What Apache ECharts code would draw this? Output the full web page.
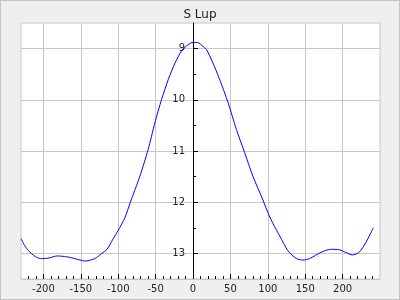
<!DOCTYPE html>
<html><head><meta charset="utf-8">
<script src="https://cdn.jsdelivr.net/npm/echarts@6/dist/echarts.min.js"></script>
<style>
html,body{margin:0;padding:0;background:#efefef;}
#c{width:400px;height:300px;box-sizing:border-box;border:1px solid #c4c4c4;background:#efefef;}
</style>
</head><body><div id="c"></div>
<script>
const chartTitle = 'S Lup';
const phase = [-230,-225,-220,-211,-204,-198,-190,-182,-172,-164,-151,-144,-137,-131,-122,-115,-107,-100,-91,-84,-71,-60,-51,-42,-33,-24,-15.5,-8,-3,3,8,12,18,26,35,47,58,69,80,93,102,111,116,127,138,147,156,171,184,196,204,213,222,231,241];
const mag = [12.71,12.85,12.95,13.06,13.10,13.10,13.08,13.05,13.06,13.08,13.13,13.15,13.13,13.10,13.00,12.92,12.72,12.55,12.30,12.01,11.49,10.97,10.45,9.99,9.60,9.28,9.05,8.94,8.89,8.88,8.89,8.94,9.02,9.26,9.58,10.06,10.58,11.03,11.49,11.94,12.27,12.53,12.66,12.95,13.10,13.13,13.10,12.98,12.92,12.93,12.98,13.03,12.98,12.79,12.50];
const xMajorTicks = [-200,-150,-100,-50,0,50,100,150,200];
const xMinorTicks = [-220,-210,-190,-180,-170,-160,-140,-130,-120,-110,-90,-80,-70,-60,-40,-30,-20,-10,10,20,30,40,60,70,80,90,110,120,130,140,160,170,180,190,210,220,230,240];
const yMajorTicks = [9,10,11,12,13];
const yMinorTicks = [9.5,10.5,11.5,12.5];
const xRange = [-230, 250];
const yRange = [8.5, 13.5];

const font = 'DejaVu Sans';
const gridColor = '#c8c8c8';
const gridLeft = 20, gridRight = 19;
const el = document.getElementById('c');
const chart = echarts.init(el, null, {renderer: 'canvas'});
const plotW = el.clientWidth - gridLeft - gridRight;
// move the y axis to x = 0 through the axis offset
const yOffset = -plotW * (0 - xRange[0]) / (xRange[1] - xRange[0]);
chart.setOption({
  animation: false,
  backgroundColor: '#efefef',
  title: {text: chartTitle, left: 'center', top: 3,
    textStyle: {fontFamily: font, fontSize: 12, fontWeight: 'normal', color: '#222'}},
  grid: {left: gridLeft, right: gridRight, top: 22, bottom: 20, show: true, backgroundColor: '#ffffff', borderColor: gridColor, borderWidth: 1},
  xAxis: [{
    type: 'value', min: xRange[0], max: xRange[1], splitNumber: 10, position: 'bottom',
    axisLine: {onZero: false, lineStyle: {color: gridColor, width: 1}},
    axisTick: {inside: true, length: 5, customValues: xMajorTicks, lineStyle: {color: '#000'}},
    axisLabel: {customValues: xMajorTicks, fontFamily: font, fontSize: 10, color: '#222', margin: 5},
    splitLine: {show: true, lineStyle: {color: gridColor, width: 1}}
  }, {
    type: 'value', min: xRange[0], max: xRange[1], splitNumber: 10, position: 'bottom',
    axisLine: {show: false, onZero: false},
    axisTick: {inside: true, length: 3, customValues: xMinorTicks, lineStyle: {color: '#000'}},
    axisLabel: {show: false},
    splitLine: {show: false}
  }],
  yAxis: [{
    type: 'value', inverse: true, min: yRange[0], max: yRange[1], splitNumber: 5, position: 'left', offset: yOffset,
    axisLine: {show: true, onZero: false, lineStyle: {color: '#000', width: 1}},
    axisTick: {inside: true, length: 5, customValues: yMajorTicks, lineStyle: {color: '#000'}},
    axisLabel: {customValues: yMajorTicks, fontFamily: font, fontSize: 10, color: '#222', margin: 8},
    splitLine: {show: true, lineStyle: {color: gridColor, width: 1}}
  }, {
    type: 'value', inverse: true, min: yRange[0], max: yRange[1], splitNumber: 5, position: 'left', offset: yOffset,
    axisLine: {show: false, onZero: false},
    axisTick: {inside: true, length: 3, customValues: yMinorTicks, lineStyle: {color: '#000'}},
    axisLabel: {show: false},
    splitLine: {show: false}
  }],
  series: [{
    type: 'line', xAxisIndex: 0, yAxisIndex: 0,
    data: phase.map((p, i) => [p, mag[i]]),
    showSymbol: false, symbol: 'none',
    smooth: 0.25,
    lineStyle: {color: '#0000ff', width: 1}
  }]
});
</script>
</body></html>
